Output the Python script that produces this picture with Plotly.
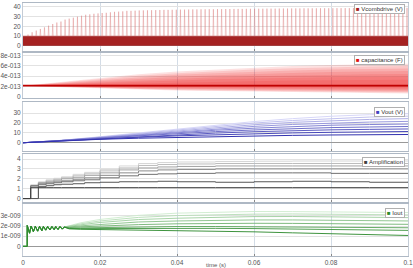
import plotly.graph_objects as go
from plotly.subplots import make_subplots

# ---------------- data ----------------
# Vcombdrive (V): dense pulse train 0..10 V plus periodic spikes
drive_t = [0.0, 0.1]
drive_high = [10, 10]
spike_start = 0.0013
spike_period = 0.00107
spike_peaks = [11.6, 14, 15.7, 17.4, 19, 20.8, 22.5, 24, 25, 27, 28, 29, 30, 31, 32, 32.4, 33, 33.4,
               33.8, 34, 34.5, 35, 35.2, 35.5, 36, 36, 36.2,
               36.4, 36.5, 36.6, 36.7, 36.8, 36.9, 37.0, 37.0, 37.1, 37.2,
               37.3, 37.3, 37.4, 37.5, 37.5, 37.6, 37.6, 37.7, 37.7, 37.8,
               37.8, 37.9, 37.9, 38.0, 38.0, 38.0, 38.1, 38.1, 38.2, 38.2,
               38.2, 38.3, 38.3, 38.3, 38.4, 38.4, 38.4, 38.5, 38.5, 38.5,
               38.6, 38.6, 38.6, 38.6, 38.7, 38.7, 38.7, 38.7, 38.8, 38.8,
               38.8, 38.8, 38.9, 38.9, 38.9, 38.9, 39.0, 39.0, 39.0, 39.0,
               39.0, 39.1, 39.1, 39.1, 39.1, 39.1]

# capacitance (F), units of 1e-13, envelopes of each run (outer -> inner)
cap_t = [0, 0.01, 0.02, 0.03, 0.04, 0.05, 0.06, 0.07, 0.08, 0.09, 0.1]
cap_center = [2.15, 2.15, 2.15, 2.15, 2.15, 2.15, 2.15, 2.15, 2.15, 2.15, 2.15]
cap_upper = [
    [2.15, 2.9, 3.7, 4.4, 4.9, 5.3, 5.7, 6.0, 6.2, 6.35, 6.45],
    [2.15, 2.8, 3.5, 4.1, 4.6, 5.0, 5.3, 5.55, 5.75, 5.9, 6.0],
    [2.15, 2.7, 3.3, 3.85, 4.3, 4.6, 4.9, 5.1, 5.3, 5.4, 5.5],
    [2.15, 2.6, 3.1, 3.55, 3.9, 4.2, 4.45, 4.65, 4.8, 4.9, 5.0],
    [2.15, 2.5, 2.9, 3.25, 3.55, 3.8, 4.0, 4.15, 4.3, 4.4, 4.45],
    [2.15, 2.4, 2.7, 2.95, 3.2, 3.4, 3.55, 3.7, 3.8, 3.85, 3.9],
    [2.15, 2.3, 2.5, 2.65, 2.8, 2.95, 3.05, 3.15, 3.2, 3.25, 3.3],
]
cap_lower = [
    [2.15, 1.85, 1.6, 1.4, 1.22, 1.08, 0.96, 0.85, 0.75, 0.67, 0.6],
    [2.15, 1.88, 1.65, 1.47, 1.32, 1.2, 1.1, 1.0, 0.92, 0.86, 0.8],
    [2.15, 1.92, 1.72, 1.56, 1.43, 1.32, 1.23, 1.15, 1.08, 1.03, 0.98],
    [2.15, 1.95, 1.78, 1.65, 1.54, 1.45, 1.37, 1.3, 1.25, 1.2, 1.16],
    [2.15, 1.98, 1.85, 1.74, 1.65, 1.58, 1.52, 1.47, 1.43, 1.39, 1.36],
    [2.15, 2.02, 1.92, 1.84, 1.77, 1.72, 1.67, 1.63, 1.6, 1.57, 1.55],
    [2.15, 2.06, 1.99, 1.94, 1.9, 1.86, 1.83, 1.8, 1.78, 1.76, 1.75],
]
cap_unit = 1e-13

# Vout (V), darkest run first
vout_t = [0, 0.005, 0.01, 0.02, 0.03, 0.04, 0.05, 0.06, 0.07, 0.08, 0.09, 0.1]
vout_runs = [
    [0, 1.0, 2.0, 3.5, 4.6, 5.5, 6.3, 7.0, 7.5, 7.9, 8.2, 8.4],
    [0, 1.0, 2.1, 3.9, 5.6, 7.0, 8.2, 9.2, 10.0, 10.6, 11.0, 11.4],
    [0, 1.0, 2.2, 4.3, 6.3, 8.2, 9.8, 11.2, 12.3, 13.1, 13.6, 14.0],
    [0, 1.0, 2.2, 4.6, 7.0, 9.3, 11.3, 13.0, 14.4, 15.4, 16.0, 16.5],
    [0, 1.0, 2.3, 4.9, 7.6, 10.3, 12.7, 14.8, 16.5, 17.8, 18.5, 19.0],
    [0, 1.0, 2.3, 5.2, 8.2, 11.3, 14.1, 16.6, 18.6, 20.1, 21.0, 21.7],
    [0, 1.0, 2.4, 5.5, 8.8, 12.3, 15.5, 18.3, 20.7, 22.5, 23.7, 24.5],
    [0, 1.0, 2.4, 5.8, 9.4, 13.2, 16.8, 20.0, 22.6, 24.7, 26.1, 27.0],
    [0, 1.0, 2.5, 6.1, 10.0, 14.0, 18.0, 21.5, 24.5, 26.9, 28.5, 29.5],
]

# Amplification, darkest run first
amp_t = [0, 0.002, 0.004, 0.006, 0.008, 0.010, 0.013, 0.016, 0.020, 0.025, 0.030,
         0.035, 0.040, 0.050, 0.060, 0.070, 0.080, 0.090, 0.100]
amp_runs = [
    [0, 1.1, 1.1, 1.1, 1.1, 1.1, 1.1, 1.1, 1.1, 1.1, 1.1, 1.1, 1.1, 1.1, 1.1, 1.1, 1.1, 1.1, 1.1],
    [0, 0, 1.2, 1.3, 1.4, 1.45, 1.5, 1.6, 1.65, 1.7, 1.7, 1.75, 1.7, 1.65, 1.7, 1.75, 1.7, 1.65, 1.7],
    [0, 1.3, 1.4, 1.5, 1.6, 1.7, 1.8, 1.9, 2.1, 2.3, 2.45, 2.5, 2.55, 2.6, 2.6, 2.6, 2.55, 2.55, 2.55],
    [0, 0, 1.5, 1.6, 1.7, 1.8, 1.95, 2.1, 2.35, 2.6, 2.8, 2.9, 2.95, 3.0, 3.0, 3.0, 3.0, 3.0, 3.0],
    [0, 1.2, 1.6, 1.7, 1.85, 2.0, 2.15, 2.35, 2.6, 2.9, 3.1, 3.2, 3.25, 3.3, 3.3, 3.3, 3.3, 3.3, 3.3],
    [0, 1.3, 1.6, 1.8, 1.95, 2.1, 2.3, 2.5, 2.8, 3.1, 3.35, 3.45, 3.5, 3.55, 3.55, 3.55, 3.55, 3.55, 3.55],
    [0, 1.4, 1.7, 1.9, 2.05, 2.2, 2.45, 2.65, 2.95, 3.3, 3.55, 3.65, 3.7, 3.75, 3.78, 3.8, 3.8, 3.8, 3.8],
]

# Iout (A), units of 1e-9: shared start-up sawtooth, then each run
iout_saw_t = [0, 0.0011, 0.0011, 0.0017, 0.0021, 0.0027, 0.0032, 0.0038, 0.0043, 0.0049, 0.0053,
              0.0059, 0.0064, 0.0070, 0.0075, 0.0081, 0.0085, 0.0091, 0.0096, 0.0102, 0.0107]
iout_saw = [0, 0, 2.05, 1.3, 2.0, 1.45, 1.98, 1.5, 1.97, 1.55, 1.96, 1.6, 1.95, 1.62, 1.95,
            1.65, 1.95, 1.67, 1.95, 1.7, 1.9]
iout_t = [0.012, 0.015, 0.02, 0.025, 0.03, 0.04, 0.05, 0.06, 0.07, 0.08, 0.09, 0.1]
iout_runs = [
    [1.72, 1.68, 1.66, 1.64, 1.62, 1.58, 1.51, 1.43, 1.33, 1.24, 1.15, 1.07],
    [1.76, 1.75, 1.76, 1.77, 1.77, 1.77, 1.77, 1.75, 1.72, 1.68, 1.63, 1.57],
    [1.8, 1.82, 1.86, 1.9, 1.92, 1.95, 1.95, 1.94, 1.92, 1.9, 1.87, 1.83],
    [1.85, 1.92, 2.0, 2.08, 2.14, 2.22, 2.26, 2.27, 2.26, 2.24, 2.21, 2.17],
    [1.9, 2.02, 2.17, 2.3, 2.4, 2.5, 2.56, 2.6, 2.6, 2.58, 2.55, 2.5],
    [1.95, 2.12, 2.35, 2.52, 2.64, 2.77, 2.87, 2.93, 2.94, 2.92, 2.88, 2.83],
    [2.0, 2.22, 2.5, 2.7, 2.85, 3.03, 3.12, 3.17, 3.19, 3.18, 3.15, 3.1],
    [2.05, 2.32, 2.65, 2.88, 3.05, 3.27, 3.38, 3.43, 3.42, 3.4, 3.37, 3.33],
]
iout_unit = 1e-9

x_ticks = [0, 0.02, 0.04, 0.06, 0.08, 0.1]
x_ticktext = ["0", "0.02", "0.04", "0.06", "0.08", "0.1"]
cap_ticks = [0, 2e-13, 4e-13, 6e-13, 8e-13]
cap_ticktext = ["0", "2e-013", "4e-013", "6e-013", "8e-013"]
iout_ticks = [0, 1e-9, 2e-9, 3e-9]
iout_ticktext = ["0", "1e-009", "2e-009", "3e-009"]
legend_names = ["Vcombdrive (V)", "capacitance (F)", "Vout (V)", "Amplification", "Iout"]

# ---------------- figure ----------------
def mix(c1, c2, f):
    return "rgb(%d,%d,%d)" % tuple(round(a + (b - a) * f) for a, b in zip(c1, c2))

fig = make_subplots(rows=5, cols=1, shared_xaxes=True, vertical_spacing=0.01)

DARKRED = "#a52222"
# panel 1
fig.add_trace(go.Scatter(x=drive_t, y=drive_high, mode="lines", fill="tozeroy",
                         fillcolor=DARKRED, line=dict(color=DARKRED, width=0.5)), row=1, col=1)
sx, sy = [], []
w = 0.00013
for k, h in enumerate(spike_peaks):
    t = spike_start + k * spike_period
    sx += [t - w, t, t + w, None]
    sy += [drive_high[0], h, drive_high[0], None]
fig.add_trace(go.Scatter(x=sx, y=sy, mode="lines",
                         line=dict(color="rgba(215,110,110,0.5)", width=0.7)), row=1, col=1)

# panel 2
for up, lo in zip(cap_upper, cap_lower):
    fig.add_trace(go.Scatter(x=cap_t + cap_t[::-1],
                             y=[v * cap_unit for v in up] + [v * cap_unit for v in lo[::-1]],
                             mode="lines", fill="toself", fillcolor="rgba(240,20,20,0.13)",
                             line=dict(width=0)), row=2, col=1)
fig.add_trace(go.Scatter(x=cap_t, y=[v * cap_unit for v in cap_center], mode="lines",
                         line=dict(color="#c00000", width=1.6)), row=2, col=1)

# panel 3
n = len(vout_runs)
for i in reversed(range(n)):
    col = mix((50, 50, 175), (215, 215, 248), i / (n - 1))
    fig.add_trace(go.Scatter(x=vout_t, y=vout_runs[i], mode="lines",
                             line=dict(color=col, width=1)), row=3, col=1)

# panel 4
n = len(amp_runs)
for i in reversed(range(n)):
    col = mix((60, 60, 60), (215, 215, 215), i / (n - 1))
    fig.add_trace(go.Scatter(x=amp_t, y=amp_runs[i], mode="lines", line_shape="hv",
                             line=dict(color=col, width=1)), row=4, col=1)

# panel 5
n = len(iout_runs)
for i in reversed(range(n)):
    col = mix((40, 135, 40), (205, 235, 205), i / (n - 1))
    xs = iout_saw_t + iout_t
    ys = [v * iout_unit for v in iout_saw + iout_runs[i]]
    fig.add_trace(go.Scatter(x=xs, y=ys, mode="lines", line=dict(color=col, width=0.9)),
                  row=5, col=1)

H_PLOT = 256.0
def dom(top, bot):
    return [(H_PLOT - bot) / H_PLOT, (H_PLOT - top) / H_PLOT]

domains = [dom(2, 50), dom(52, 97), dom(101, 151), dom(154, 202), dom(204, 256)]
ranges = [[-5.1, 44.1], [-0.195e-13, 8.585e-13], [-8.8, 41.8], [-0.37, 4.47], [-0.95e-9, 4.15e-9]]
ytickvals = [[0, 10, 20, 30, 40], cap_ticks, [0, 10, 20, 30], [0, 1, 2, 3, 4], iout_ticks]
yticktext = [["0", "10", "20", "30", "40"], cap_ticktext, ["0", "10", "20", "30"],
             ["0", "1", "2", "3", "4"], iout_ticktext]

tickfont = dict(family="Liberation Sans, Arial, sans-serif", size=6.5, color="#555")
for r in range(5):
    yk = "yaxis" if r == 0 else "yaxis%d" % (r + 1)
    xk = "xaxis" if r == 0 else "xaxis%d" % (r + 1)
    fig.layout[yk].update(dict(domain=domains[r], range=ranges[r], showgrid=True,
                               gridcolor="#e2e2e2", gridwidth=1, zeroline=True,
                               zerolinecolor="#999999", zerolinewidth=1,
                               showline=True, linecolor="#c4ccd6", mirror=True, ticks="",
                               tickvals=ytickvals[r], ticktext=yticktext[r],
                               tickfont=tickfont, fixedrange=True))
    fig.layout[xk].update(dict(range=[0, 0.1], tickvals=x_ticks, ticktext=x_ticktext,
                               showgrid=True, gridcolor="#d3dce6", gridwidth=1,
                               showline=True, linecolor="#aeb8c4", mirror=True,
                               ticks="inside", ticklen=2, tickcolor="#888",
                               showticklabels=(r == 4), tickfont=tickfont, zeroline=False,
                               ticklabeloverflow="allow"))

annots = []
legend_cols = [DARKRED, "#e01010", "#4040c0", "#404040", "#2a8a2a"]
legend_tops = [3, 54, 106, 157, 208]
for name, c, top in zip(legend_names, legend_cols, legend_tops):
    annots.append(dict(xref="paper", yref="paper", x=(407 - 20) / 390.0,
                       y=(H_PLOT - top) / H_PLOT, xanchor="right", yanchor="top",
                       text="<span style='color:%s'>■</span> %s" % (c, name), showarrow=False,
                       font=dict(family="Liberation Sans, Arial, sans-serif", size=6, color="#333"),
                       bgcolor="white", bordercolor="#b0b0b0", borderwidth=1, borderpad=1))
annots.append(dict(xref="paper", yref="paper", x=0.5, y=-(265.5 - H_PLOT) / H_PLOT,
                   xanchor="center", yanchor="middle", text="time (s)", showarrow=False,
                   font=dict(family="Liberation Sans, Arial, sans-serif", size=6, color="#555")))

fig.update_layout(width=413, height=268, margin=dict(l=20, r=3, t=0, b=12),
                  paper_bgcolor="white", plot_bgcolor="white", showlegend=False,
                  annotations=annots)
fig.write_html("out.html")
